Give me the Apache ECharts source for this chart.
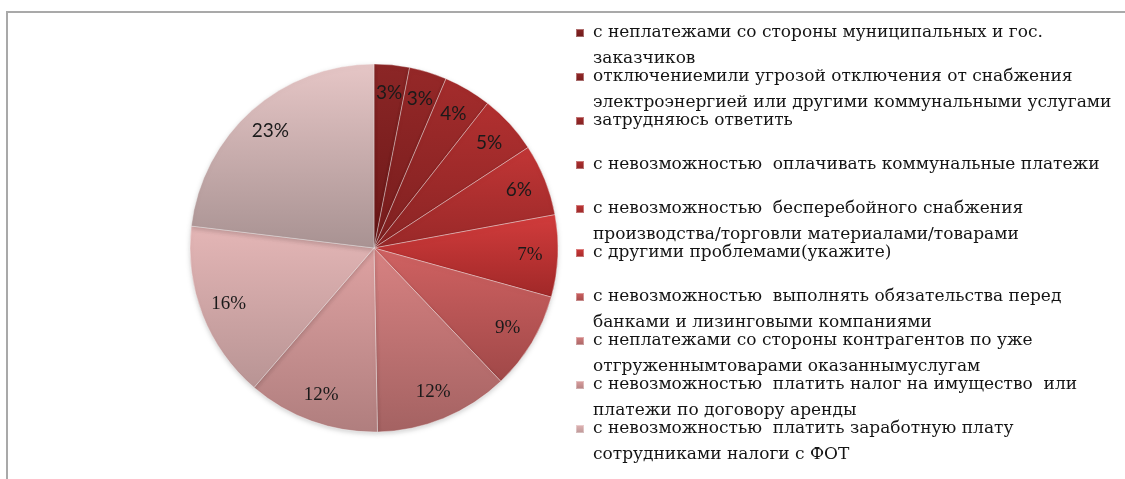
<!DOCTYPE html>
<html>
<head>
<meta charset="utf-8">
<script src="https://cdn.jsdelivr.net/npm/echarts@6/dist/echarts.min.js"></script>
<style>
  html, body { margin: 0; padding: 0; background: #fff; }
  #frame {
    position: absolute; left: 6px; top: 11px; width: 1125px; height: 479px;
    border-left: 2px solid #a9a9a9; border-top: 2px solid #a9a9a9;
  }
  #chart { position: absolute; left: 0; top: 0; width: 1125px; height: 479px; }
</style>
</head>
<body>
<div id="frame"></div>
<div id="chart"></div>
<script>
// категории (как в легенде, с переносами строк)
var categories = [
  "с неплатежами со стороны муниципальных и гос.\nзаказчиков",
  "отключениемили угрозой отключения от снабжения\nэлектроэнергией или другими коммунальными услугами",
  "затрудняюсь ответить",
  "с невозможностью  оплачивать коммунальные платежи",
  "с невозможностью  бесперебойного снабжения\nпроизводства/торговли материалами/товарами",
  "с другими проблемами(укажите)",
  "с невозможностью  выполнять обязательства перед\nбанками и лизинговыми компаниями",
  "с неплатежами со стороны контрагентов по уже\nотгруженнымтоварами оказаннымуслугам",
  "с невозможностью  платить налог на имущество  или\nплатежи по договору аренды",
  "с невозможностью  платить заработную плату\nсотрудниками налоги с ФОТ",
  " "
];
// доли, % (оценка по углам секторов)
var values = [3.1, 3.3, 4.2, 5.2, 6.3, 7.2, 8.6, 11.8, 11.6, 15.6, 23.1];

// цвета секторов: верх / низ градиента
var topColors = ["#8c2626", "#962828", "#a42c2c", "#b23030", "#c23636", "#d23c3c",
                 "#d06262", "#d88282", "#dea2a2", "#e4b6b6", "#e6c6c6"];
var bottomColors = ["#6a1818", "#741c1c", "#7e2020", "#8a2424", "#982828", "#a02828",
                    "#a04848", "#a46262", "#b07e7e", "#b89494", "#a89292"];
// шрифт подписей
var labelFonts = ["Lato", "Lato", "Lato", "Lato", "Lato", "Liberation Serif",
                  "Liberation Serif", "Liberation Serif", "Liberation Serif", "Liberation Serif", "Lato"];

var chart = echarts.init(document.getElementById("chart"));

var pieData = values.map(function (v, i) {
  return {
    name: categories[i],
    value: v,
    itemStyle: {
      color: new echarts.graphic.LinearGradient(0, 0, 0, 1, [
        { offset: 0, color: topColors[i] },
        { offset: 1, color: bottomColors[i] }
      ])
    }
  };
});

var labelData = values.map(function (v, i) {
  return {
    name: categories[i],
    value: v,
    label: { fontFamily: labelFonts[i] }
  };
});

// отдельная легенда на каждую позицию, шаг 44px;
// у двухстрочных подписей пустая первая строка, чтобы маркер стоял у первой строки
var legends = [];
for (var i = 0; i < 10; i++) {
  var twoLines = categories[i].indexOf("\n") >= 0;
  legends.push({
    data: [categories[i]],
    orient: "vertical",
    left: 575,
    top: 20 + i * 44 - (twoLines ? 26 : 0),
    padding: 0,
    icon: "rect",
    itemWidth: 8,
    itemHeight: 8,
    itemGap: 0,
    selectedMode: false,
    formatter: twoLines ? function (n) { return "\n" + n; } : "{name}",
    textStyle: {
      fontFamily: "DejaVu Serif",
      fontSize: 17,
      color: "#141414",
      lineHeight: 26,
      padding: [0, 0, 0, 4]
    }
  });
}

var option = {
  animation: false,
  backgroundColor: "transparent",
  legend: legends,
  series: [
    {
      type: "pie",
      center: [374, 248],
      radius: 184,
      startAngle: 90,
      clockwise: true,
      label: { show: false },
      labelLine: { show: false },
      itemStyle: {
        borderColor: "rgba(255,255,255,0.35)",
        borderWidth: 1,
        shadowBlur: 5,
        shadowOffsetY: 2,
        shadowColor: "rgba(0,0,0,0.18)"
      },
      emphasis: { disabled: true },
      data: pieData
    },
    {
      // прозрачное кольцо только для подписей процентов
      type: "pie",
      silent: true,
      center: [374, 248],
      radius: [122, 184],
      startAngle: 90,
      clockwise: true,
      itemStyle: { color: "rgba(0,0,0,0)" },
      label: {
        show: true,
        position: "inside",
        fontSize: 19,
        color: "#1a1a1a",
        formatter: function (p) { return Math.round(p.percent) + "%"; }
      },
      labelLine: { show: false },
      emphasis: { disabled: true },
      data: labelData
    }
  ]
};

chart.setOption(option);
</script>
</body>
</html>
